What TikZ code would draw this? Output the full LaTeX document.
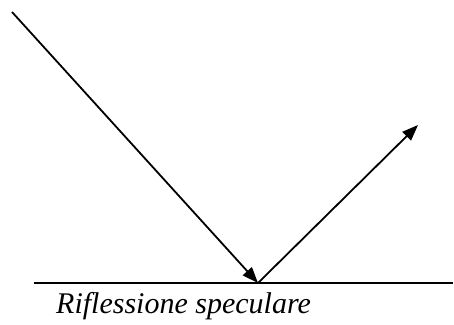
\documentclass[tikz,border=0pt]{standalone}
\usepackage{fontspec}
\setmainfont{Liberation Serif}
\usetikzlibrary{arrows.meta}
\begin{document}
\begin{tikzpicture}[
  x=1pt, y=-1pt,
  ray/.style={line width=1.8pt, -{Triangle[length=16pt,width=12pt]}},
  surface/.style={line width=2pt},
]
  \useasboundingbox (0,0) rectangle (454,324);
  \coordinate (src) at (12,12);
  \coordinate (hit) at (258,283);
  \coordinate (out) at (418,125);
  \coordinate (left) at (34,283);
  \coordinate (right) at (453,283);

  \draw[surface] (left) -- (right);
  \draw[ray] (src) -- (hit);
  \draw[ray] (hit) -- (out);

  \node[anchor=base west, inner sep=0pt, font=\fontsize{30}{34}\selectfont\itshape] (lbl) at (56,313) {Riflessione speculare};
\end{tikzpicture}
\end{document}
